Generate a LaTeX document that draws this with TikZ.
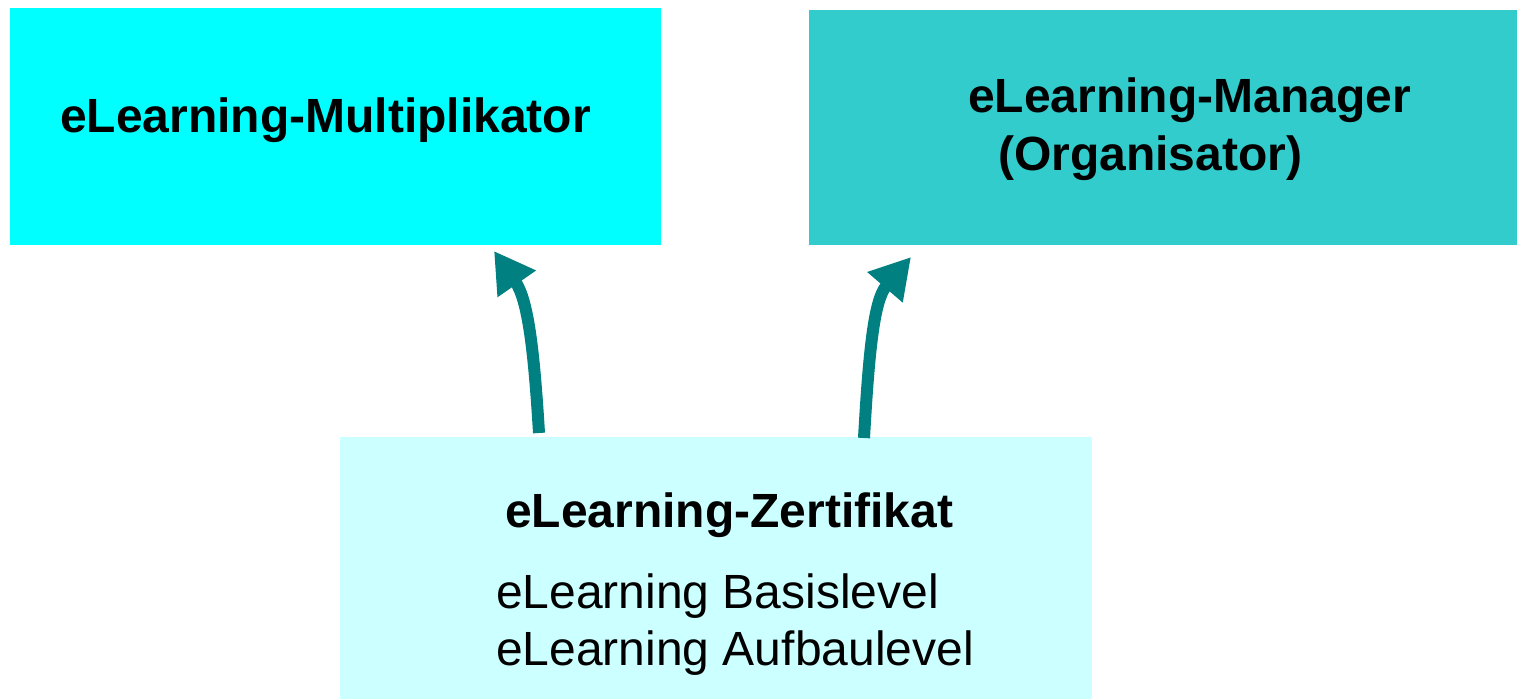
\documentclass[tikz,border=0pt]{standalone}
\usepackage{fontspec}
\setmainfont{Liberation Sans}
\usetikzlibrary{arrows.meta}
\definecolor{cyanA}{HTML}{00FFFF}
\definecolor{tealB}{HTML}{33CCCC}
\definecolor{lightC}{HTML}{CCFFFF}
\definecolor{arrowT}{HTML}{008080}
\tikzset{
  box/.style={draw=none, inner sep=0pt, outer sep=0pt},
  lbl/.style={anchor=base west, inner sep=0pt, font=\fontsize{48}{56}\selectfont},
  blbl/.style={lbl, font=\fontsize{48}{56}\selectfont\bfseries},
  conn/.style={draw=arrowT, line width=12pt, -{Triangle[length=40pt,width=44pt]}}
}
\begin{document}
\begin{tikzpicture}[x=1pt,y=-1pt]
\useasboundingbox (0,0) rectangle (1517,699);
\node[box, fill=cyanA, minimum width=651pt, minimum height=237pt] (mult) at (335.5,126.5) {};
\node[box, fill=tealB, minimum width=708pt, minimum height=235pt] (mgr) at (1163,127.5) {};
\node[box, fill=lightC, minimum width=752pt, minimum height=262pt] (zert) at (716,568) {};
\node[blbl] (t1) at (60,132) {eLearning-Multiplikator};
\node[blbl] (t2) at (968,112) {eLearning-Manager};
\node[blbl] (t3) at (998,170) {(Organisator)};
\node[blbl] (t4) at (505,527) {eLearning-Zertifikat};
\node[lbl] (t5) at (496,608) {eLearning Basislevel};
\node[lbl] (t6) at (496,665) {eLearning Aufbaulevel};
\coordinate (a1s) at (539,433);
\coordinate (a1e) at (494,251);
\coordinate (a2s) at (864,438);
\coordinate (a2e) at (911,257);
\draw[conn] (a1s) .. controls (534,350) and (528,300) .. (a1e);
\draw[conn] (a2s) .. controls (869,350) and (874,300) .. (a2e);
\end{tikzpicture}
\end{document}
